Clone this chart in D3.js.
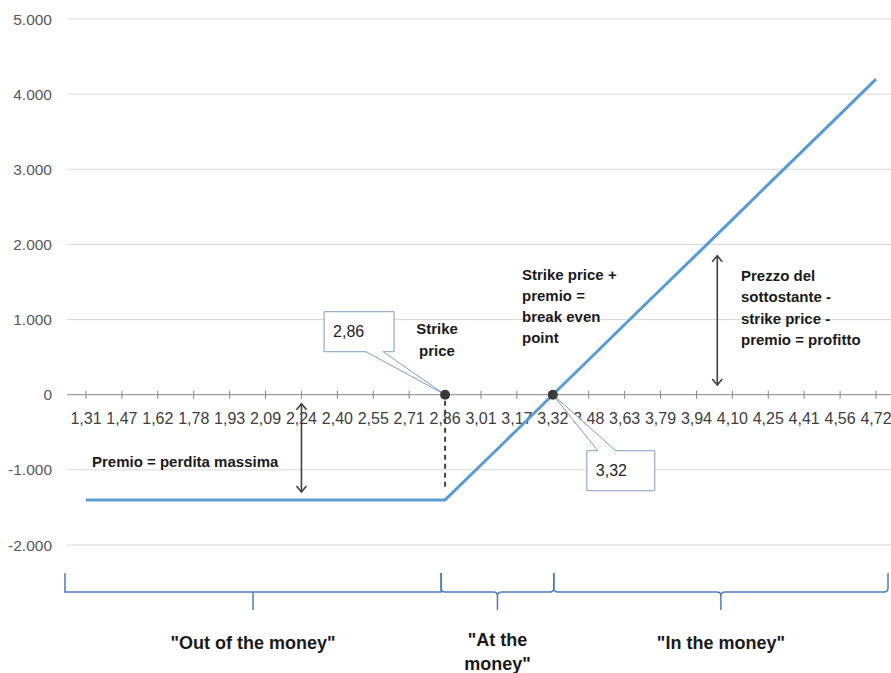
<!DOCTYPE html>
<html>
<head>
<meta charset="utf-8">
<script src="https://cdn.jsdelivr.net/npm/d3@7"></script>
<style>
  body { margin: 0; background: #fff; }
  text { font-family: "Liberation Sans", Arial, sans-serif; }
</style>
</head>
<body>
<script>
// categories (prezzo del sottostante) and payoff values
var categories = ["1,31","1,47","1,62","1,78","1,93","2,09","2,24","2,40","2,55","2,71","2,86",
                  "3,01","3,17","3,32","3,48","3,63","3,79","3,94","4,10","4,25","4,41","4,56","4,72"];
var payoff = [-1400,-1400,-1400,-1400,-1400,-1400,-1400,-1400,-1400,-1400,-1400,
              -935,-470,0,465,935,1400,1865,2330,2800,3265,3730,4200];
var yTicks = [-2000,-1000,0,1000,2000,3000,4000,5000];

var strikeLabel = "2,86";
var breakEvenLabel = "3,32";

var zones = [
    {from: "1,31", to: "2,86", label: ['"Out of the money"']},
    {from: "2,86", to: "3,32", label: ['"At the', 'money"']},
    {from: "3,32", to: "4,72", label: ['"In the money"']}
];

var width = 891, height = 673;

var svg = d3.select("body").append("svg")
    .attr("width", width)
    .attr("height", height);

var x = d3.scalePoint().domain(categories).range([86, 876]);
var y = d3.scaleLinear().domain([-2000, 5000]).range([545, 19]);
var step = x.step();

// italian style: 1.000, -1.000
var fmt = function(v) { return d3.format(",")(v).replace(/,/g, ".").replace("\u2212", "-"); };

// gridlines
svg.append("g").selectAll("line")
    .data(yTicks.filter(function(d) { return d !== 0; }))
    .enter().append("line")
    .attr("x1", 67).attr("x2", width)
    .attr("y1", function(d) { return y(d); })
    .attr("y2", function(d) { return y(d); })
    .attr("stroke", "#d9d9d9")
    .attr("stroke-width", 1);

// y labels
svg.append("g").selectAll("text")
    .data(yTicks)
    .enter().append("text")
    .attr("x", 52)
    .attr("y", function(d) { return y(d); })
    .attr("dy", "0.36em")
    .attr("text-anchor", "end")
    .style("font-size", "15.5px")
    .style("fill", "#595959")
    .text(fmt);

// zero axis with category ticks
svg.append("line")
    .attr("x1", 67).attr("x2", width)
    .attr("y1", y(0)).attr("y2", y(0))
    .attr("stroke", "#868686").attr("stroke-width", 1);

svg.append("g").selectAll("line")
    .data(categories)
    .enter().append("line")
    .attr("x1", function(d) { return x(d); })
    .attr("x2", function(d) { return x(d); })
    .attr("y1", y(0) - 4).attr("y2", y(0) + 4)
    .attr("stroke", "#868686");

svg.append("g").selectAll("text")
    .data(categories)
    .enter().append("text")
    .attr("x", function(d) { return x(d); })
    .attr("y", y(0) + 29)
    .attr("text-anchor", "middle")
    .style("font-size", "16px")
    .style("fill", "#404040")
    .text(function(d) { return d; });

// payoff line
var line = d3.line()
    .x(function(d, i) { return x(categories[i]); })
    .y(function(d) { return y(d); });

svg.append("path")
    .datum(payoff)
    .attr("fill", "none")
    .attr("stroke", "#5b9bd5")
    .attr("stroke-width", 3)
    .attr("stroke-linejoin", "round")
    .attr("d", line);

// arrow markers
var defs = svg.append("defs");
["start", "end"].forEach(function(k) {
    defs.append("marker")
        .attr("id", "arr-" + k)
        .attr("viewBox", "-10 -6 12 12")
        .attr("refX", 0).attr("refY", 0)
        .attr("markerWidth", 12).attr("markerHeight", 12)
        .attr("markerUnits", "userSpaceOnUse")
        .attr("orient", k === "end" ? "auto" : "auto-start-reverse")
        .append("path")
        .attr("d", "M-6,-5 L0,0 L-6,5")
        .attr("fill", "none")
        .attr("stroke", "#404040")
        .attr("stroke-width", 1.6);
});

function arrow(xp, y1, y2) {
    svg.append("line")
        .attr("x1", xp).attr("x2", xp)
        .attr("y1", y1).attr("y2", y2)
        .attr("stroke", "#404040")
        .attr("stroke-width", 1.6)
        .attr("marker-start", "url(#arr-start)")
        .attr("marker-end", "url(#arr-end)");
}

// premio arrow (between 0 and the flat loss)
arrow(x("2,24"), y(0) + 9, y(payoff[0]) - 8);
// profitto arrow
arrow(x("3,94") + 0.58 * step, y(1850), y(130));

// dashed strike line
svg.append("line")
    .attr("x1", x(strikeLabel)).attr("x2", x(strikeLabel))
    .attr("y1", y(0) + 6).attr("y2", y(payoff[0]) - 10)
    .attr("stroke", "#404040")
    .attr("stroke-width", 2)
    .attr("stroke-dasharray", "5,4");

// callouts
var sx = x(strikeLabel), sy = y(0);
svg.append("path")
    .attr("d", "M" + (sx - 121) + "," + (sy - 83) + "H" + (sx - 51) + "V" + (sy - 43) +
        "H" + (sx - 62) + "L" + sx + "," + sy + "L" + (sx - 79) + "," + (sy - 43) +
        "H" + (sx - 121) + "Z")
    .attr("fill", "#fff")
    .attr("stroke", "#7f9cc6")
    .attr("stroke-width", 1);
svg.append("text")
    .attr("x", sx - 112).attr("y", sy - 58)
    .style("font-size", "16px").style("fill", "#262626")
    .text(strikeLabel);

var bx = x(breakEvenLabel), by = y(0);
svg.append("path")
    .attr("d", "M" + (bx + 34) + "," + (by + 56) + "H" + (bx + 45) + "L" + bx + "," + by +
        "L" + (bx + 63) + "," + (by + 56) + "H" + (bx + 102) + "V" + (by + 96) +
        "H" + (bx + 34) + "Z")
    .attr("fill", "#fff")
    .attr("stroke", "#7f9cc6")
    .attr("stroke-width", 1);
svg.append("text")
    .attr("x", bx + 43).attr("y", by + 81)
    .style("font-size", "16px").style("fill", "#262626")
    .text(breakEvenLabel);

// points
svg.append("g").selectAll("circle")
    .data([strikeLabel, breakEvenLabel])
    .enter().append("circle")
    .attr("cx", function(d) { return x(d); })
    .attr("cy", y(0))
    .attr("r", 5)
    .attr("fill", "#3a3a3a");

// bold annotations
function note(lines, xp, yp, anchor, lh) {
    var t = svg.append("text")
        .attr("x", xp).attr("y", yp)
        .attr("text-anchor", anchor)
        .style("font-size", "15px")
        .style("font-weight", "bold")
        .style("fill", "#1a1a1a");
    lines.forEach(function(s, i) {
        t.append("tspan").attr("x", xp).attr("dy", i === 0 ? 0 : lh).text(s);
    });
}
note(["Strike", "price"], 437, 334, "middle", 22);
note(["Strike price +", "premio =", "break even", "point"], 522, 280, "start", 21);
note(["Prezzo del", "sottostante -", "strike price -", "premio = profitto"], 741, 281, "start", 21.3);
note(["Premio = perdita massima"], 92, 467, "start", 0);

// braces
var bTop = 573, bMid = 592, bTip = 610;
var braceX = [65, x("2,86") - 4, x("3,32") + 1, 888];
zones.forEach(function(z, i) {
    var x0 = braceX[i], x1 = braceX[i + 1];
    var tx = (x0 + x1) / 2;
    var r = i === 0 ? 0 : 4;
    var d = "M" + x0 + "," + bTop +
        "V" + (bMid - r) + "Q" + x0 + "," + bMid + " " + (x0 + r) + "," + bMid +
        "H" + (tx - r) + "Q" + tx + "," + bMid + " " + tx + "," + (bMid + r) +
        "V" + bTip + "M" + tx + "," + (bMid + r) +
        "Q" + tx + "," + bMid + " " + (tx + r) + "," + bMid +
        "H" + (x1 - r) + "Q" + x1 + "," + bMid + " " + x1 + "," + (bMid - r) +
        "V" + bTop;
    svg.append("path")
        .attr("d", d)
        .attr("fill", "none")
        .attr("stroke", "#4a7ebb")
        .attr("stroke-width", 1.5);

    var t = svg.append("text")
        .attr("x", tx).attr("y", z.label.length > 1 ? 646 : 649)
        .attr("text-anchor", "middle")
        .style("font-size", "18px")
        .style("font-weight", "bold")
        .style("fill", "#1a1a1a");
    z.label.forEach(function(s, j) {
        t.append("tspan").attr("x", tx).attr("dy", j === 0 ? 0 : 24).text(s);
    });
});
</script>
</body>
</html>
